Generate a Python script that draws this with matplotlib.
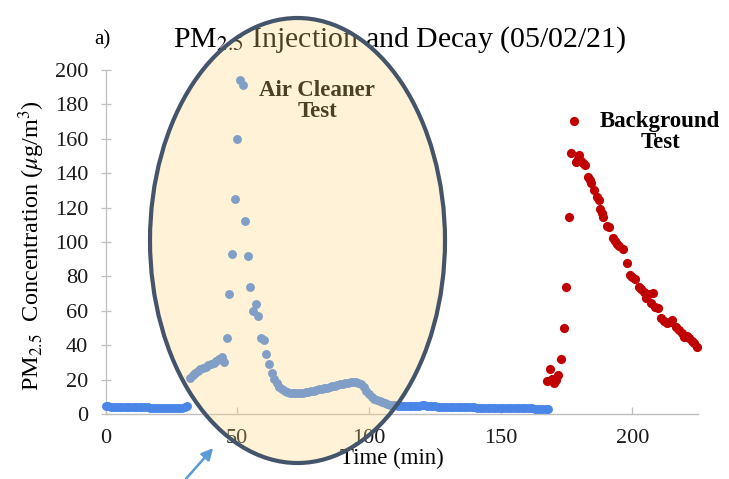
import matplotlib
matplotlib.use("Agg")
import matplotlib.pyplot as plt
import numpy as np
from matplotlib.patches import Ellipse, FancyArrowPatch

# ---------------- data ----------------
# Air-cleaner test (blue), one reading per minute starting at t = 0
blue_start = 0
blue_step = 1.0
blue_conc = [
    4.4, 4.4, 4.3, 4.3, 4.2, 4.2, 4.1, 4.1, 4.0, 4.0,
    4.0, 3.9, 3.9, 3.9, 3.8, 3.8, 3.8, 3.7, 3.7, 3.7,
    3.7, 3.6, 3.6, 3.6, 3.6, 3.5, 3.5, 3.5, 3.5, 3.6,
    4.0, 4.8, 21.0, 22.5, 24.0, 25.2, 26.3, 27.0, 27.6, 28.3,
    29.0, 29.8, 30.8, 32.0, 33.0, 30.5, 44.0, 70.0, 93.0, 125.0,
    160.0, 194.0, 191.0, 112.0, 92.0, 74.0, 60.0, 64.0, 57.0, 44.0,
    43.0, 35.0, 29.0, 24.0, 20.5, 17.8, 15.8, 14.3, 13.2, 12.6,
    12.2, 12.0, 12.0, 12.1, 12.3, 12.5, 12.7, 13.0, 13.3, 13.6,
    14.0, 14.3, 14.6, 15.0, 15.4, 15.8, 16.2, 16.5, 16.9, 17.2,
    17.6, 17.9, 18.2, 18.4, 18.5, 18.5, 18.3, 17.6, 15.8, 13.5,
    11.5, 10.0, 8.9, 8.0, 7.3, 6.7, 6.2, 5.8, 5.5, 5.2,
    5.0, 4.8, 4.7, 4.6, 4.6, 4.5, 4.5, 4.5, 4.6, 4.9,
    5.2, 5.0, 4.7, 4.5, 4.4, 4.4, 4.3, 4.3, 4.2, 4.2,
    4.1, 4.1, 4.1, 4.0, 4.0, 3.9, 3.9, 3.9, 3.8, 3.8,
    3.8, 3.7, 3.7, 3.7, 3.6, 3.6, 3.6, 3.5, 3.5, 3.5,
    3.5, 3.4, 3.4, 3.4, 3.4, 3.3, 3.3, 3.3, 3.3, 3.2,
    3.2, 3.2, 3.2, 3.1, 3.1, 3.1, 3.1, 3.0, 3.0,
]
blue_time = blue_start + blue_step * np.arange(len(blue_conc))

# Background test (red)
red_time = [167.5, 168.8, 169.5, 170.3, 171.0, 171.7, 173.0, 173.9, 174.9, 176.1,
            176.8, 178.0, 178.7, 179.4, 179.9, 180.6, 181.2, 181.8, 183.1, 183.7,
            184.3, 185.5, 186.5, 187.2, 187.7, 188.4, 189.0, 190.3, 191.0, 192.5,
            193.3, 194.0, 195.0, 196.3, 197.8, 198.9, 199.8, 200.8, 202.4, 203.3,
            204.2, 205.0, 206.2, 207.0, 207.7, 208.6, 209.6, 210.8, 212.0, 213.3,
            214.2, 215.2, 216.5, 217.8, 218.7, 219.7, 220.6, 221.6, 222.5, 223.5,
            224.4]
red_conc = [19.2, 26.0, 20.5, 18.2, 20.0, 22.7, 31.8, 49.8, 74.0, 114.4,
            152.0, 170.5, 146.7, 148.5, 150.6, 147.0, 145.8, 144.8, 137.6, 136.0,
            134.1, 130.0, 126.3, 124.4, 119.0, 117.0, 114.7, 109.3, 108.5, 102.1,
            100.5, 98.8, 97.5, 95.7, 87.6, 80.8, 79.5, 78.3, 74.0, 72.5,
            71.1, 67.3, 70.0, 64.4, 70.5, 62.5, 61.5, 55.6, 54.0, 52.7,
            53.5, 54.7, 50.4, 48.8, 47.0, 44.9, 45.5, 44.0, 42.5, 41.1,
            39.1]

x_ticks = [0, 50, 100, 150, 200]
y_ticks = [0, 20, 40, 60, 80, 100, 120, 140, 160, 180, 200]

title = "PM$_{2.5}$ Injection and Decay (05/02/21)"
panel = "a)"
xlabel = "Time (min)"
ylabel = "PM$_{2.5}$  Concentration ($\\mu$g/m$^3$)"
label_air = "Air Cleaner\nTest"
label_bg = "Background\nTest"

# ---------------- style ----------------
plt.rcParams['font.family'] = ['Liberation Serif', 'DejaVu Serif']
plt.rcParams['mathtext.fontset'] = 'stix'

W, H = 729, 479
fig = plt.figure(figsize=(W / 100, H / 100), dpi=100)
ax = fig.add_axes([105.6 / W, 1 - 414 / H, 592.7 / W, 344 / H])

ax.plot(blue_time, blue_conc, 'o', color='#4A86E8', markersize=6.4,
        markeredgewidth=0, clip_on=False, zorder=3)
ax.plot(red_time, red_conc, 'o', color='#C00000', markersize=6.6,
        markeredgewidth=0, clip_on=False, zorder=3)

ax.set_xlim(0, 225)
ax.set_ylim(0, 200)
ax.set_xticks(x_ticks)
ax.set_yticks(y_ticks)

for s in ['top', 'right']:
    ax.spines[s].set_visible(False)
ax.spines['left'].set_color('#BFBFBF')
ax.spines['bottom'].set_color('#BFBFBF')
ax.spines['left'].set_linewidth(0.9)
ax.spines['bottom'].set_linewidth(1.0)

ax.tick_params(axis='y', direction='inout', length=7, width=0.9,
               color='#BFBFBF', labelsize=16, pad=9, labelcolor='#1a1a1a')
ax.tick_params(axis='x', direction='in', length=5, width=0.9,
               color='#BFBFBF', labelsize=16, pad=11, labelcolor='#1a1a1a')

ax.set_xlabel(xlabel, fontsize=16.5)
ax.xaxis.set_label_coords((392 - 105.6) / 592.7, (414 - 448) / 344)
ax.set_ylabel(ylabel, fontsize=17.5)
ax.yaxis.set_label_coords((47 - 105.6) / 592.7, 0.49)

ax.text(80.3, 182, label_air, fontsize=16.5, fontweight='bold', ha='center',
        va='center', linespacing=0.95, color='black')
ax.text(210.5, 164, label_bg, fontsize=16.5, fontweight='bold', ha='center',
        va='center', linespacing=0.95, color='black')

fig.text(400 / W, 1 - 47 / H, title, fontsize=21.5, ha='center',
         va='baseline', color='black')
fig.text(94 / W, 1 - 44 / H, panel, fontsize=15, ha='left', va='baseline',
         color='black')

# highlight ellipse (semi-transparent overlay + opaque outline)
cx, cy, ew, eh = 297.5, 240.5, 295, 445
fill = Ellipse((cx / W, 1 - cy / H), ew / W, eh / H, transform=fig.transFigure,
               facecolor='#FFD77A', alpha=0.3, edgecolor='none', zorder=10)
edge = Ellipse((cx / W, 1 - cy / H), ew / W, eh / H, transform=fig.transFigure,
               facecolor='none', edgecolor='#44546A', linewidth=3.0, zorder=11)
fig.add_artist(fill)
fig.add_artist(edge)

arrow = FancyArrowPatch((184 / W, 1 - 481 / H), (215 / W, 1 - 446 / H),
                        transform=fig.transFigure, arrowstyle='-|>',
                        mutation_scale=17, color='#5B9BD5', linewidth=1.8,
                        zorder=12)
fig.add_artist(arrow)

fig.savefig('out.png', dpi=100)
